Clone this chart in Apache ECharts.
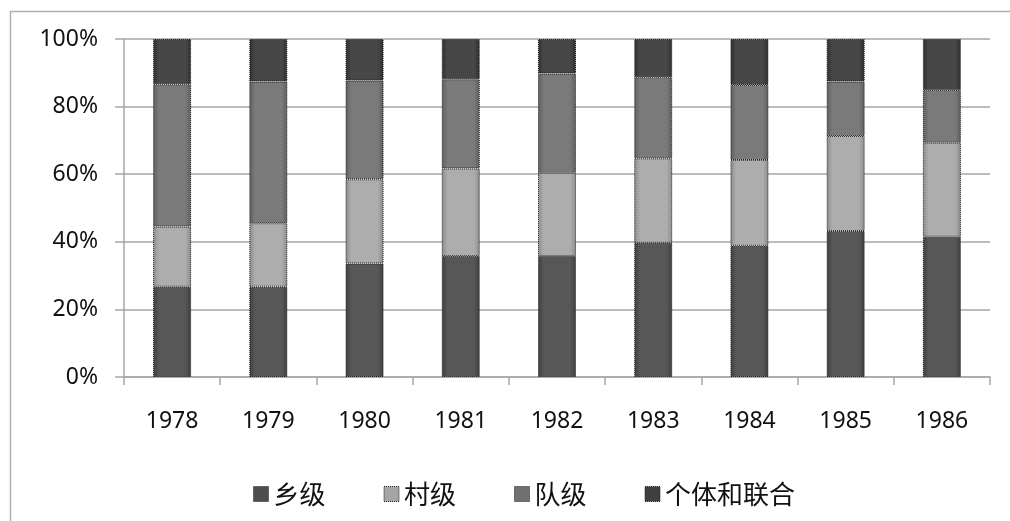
<!DOCTYPE html>
<html>
<head>
<meta charset="utf-8">
<script src="https://cdn.jsdelivr.net/npm/echarts@6/dist/echarts.min.js"></script>
<style>
html,body{margin:0;padding:0;background:#fff;}
#c{width:1010px;height:521px;}
</style>
</head>
<body>
<div id="c"></div>
<script>
var categories = ['1978','1979','1980','1981','1982','1983','1984','1985','1986'];
var xiangji = [26.7, 26.7, 33.6, 35.8, 35.8, 39.7, 38.8, 43.2, 41.5];
var cunji   = [17.8, 18.8, 24.9, 25.9, 24.6, 25.0, 25.4, 28.1, 27.8];
var duiji   = [42.1, 41.9, 29.2, 26.4, 29.4, 24.0, 22.2, 16.1, 15.6];
var geti    = [13.4, 12.6, 12.3, 11.9, 10.2, 11.3, 13.6, 12.6, 15.1];
var seriesNames = ['乡级','村级','队级','个体和联合'];
var yTicks = ['0%','20%','40%','60%','80%','100%'];

function grad(edge, mid){
  return new echarts.graphic.LinearGradient(0,0,1,0,[
    {offset:0,color:edge},{offset:0.15,color:mid},{offset:0.85,color:mid},{offset:1,color:edge}
  ]);
}
var fills = [
  grad('#3e3e3e','#575757'),
  grad('#8c8c8c','#adadad'),
  grad('#5e5e5e','#7a7a7a'),
  grad('#303030','#474747')
];
var iconFills = ['#4d4d4d','#a5a5a5','#707070','#3f3f3f'];
var dataSets = [xiangji, cunji, duiji, geti];

var chart = echarts.init(document.getElementById('c'), null, {renderer:'canvas'});
var series = dataSets.map(function(d,i){
  return {
    name: seriesNames[i],
    type: 'bar',
    stack: 'total',
    barWidth: 38,
    data: d,
    itemStyle: {
      color: fills[i],
      borderColor: '#1a1a1a',
      borderWidth: 1,
      borderType: 'dotted'
    }
  };
});

chart.setOption({
  animation: false,
  backgroundColor: '#ffffff',
  graphic: [{
    type: 'polyline',
    shape: {points: [[10.5,530],[10.5,11.5],[1020,11.5]]},
    style: {stroke:'#b0b0b0', lineWidth:1.5, fill:null},
    silent: true
  }],
  legend: {
    left: 248,
    top: 476,
    itemWidth: 15,
    itemHeight: 15,
    itemGap: 58,
    icon: 'rect',
    textStyle: {fontFamily:'Noto Sans CJK SC', fontSize:26, color:'#111'},
    data: seriesNames.map(function(n,i){return {name:n, itemStyle:{color:iconFills[i], borderColor:'#222', borderWidth:1, borderType:'dotted'}};})
  },
  grid: {left:124, right:20, top:39, bottom:144, containLabel:false},
  xAxis: {
    type: 'category',
    data: categories,
    boundaryGap: true,
    axisLine: {show:true, lineStyle:{color:'#a6a6a6', width:1.5}},
    axisTick: {show:true, length:8, inside:false, lineStyle:{color:'#a6a6a6', width:1.5}},
    axisLabel: {margin:33, fontFamily:'Noto Sans', fontSize:23, color:'#111'}
  },
  yAxis: {
    type: 'value',
    min: 0, max: 100, interval: 20,
    axisLine: {show:true, lineStyle:{color:'#a6a6a6', width:1.5}},
    axisTick: {show:true, length:9, lineStyle:{color:'#a6a6a6', width:1.5}},
    splitLine: {show:true, lineStyle:{color:'#a6a6a6', width:1.5}},
    axisLabel: {
      margin: 26, fontFamily:'Noto Sans', fontSize:23, color:'#111',
      formatter: function(v){ return yTicks[Math.round(v/20)]; }
    }
  },
  series: series
});
</script>
</body>
</html>
